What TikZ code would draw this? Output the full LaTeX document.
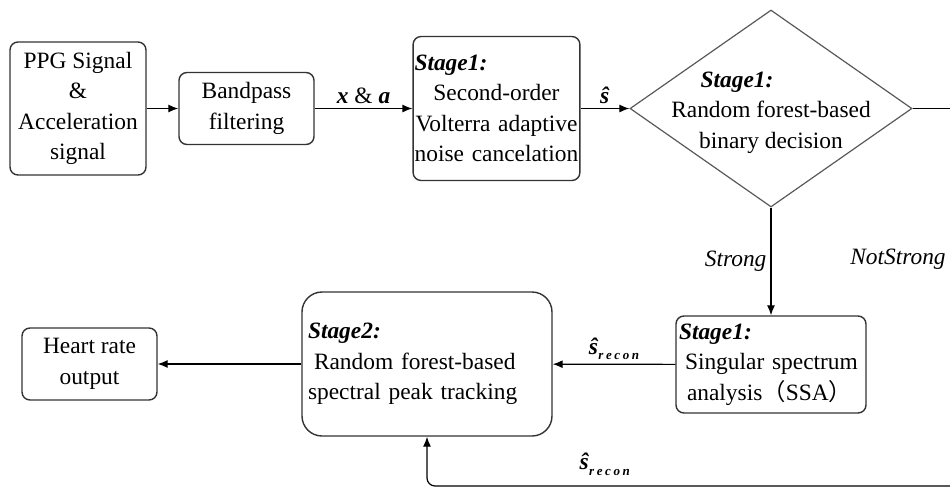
\documentclass[tikz,border=0pt]{standalone}
\usepackage{fontspec}
\setmainfont{Liberation Serif}
\newfontfamily\cjk{Noto Sans CJK SC}
\usetikzlibrary{arrows.meta,shapes.geometric}

\newcommand{\stg}[1]{\textbf{\textit{#1}}}
\newcommand{\srecon}{\stg{ŝ}\raisebox{-0.5ex}{\fontsize{6.5}{7}\selectfont\bfseries\itshape\addfontfeature{LetterSpace=20}recon}}

\begin{document}
\begin{tikzpicture}[x=0.5pt,y=-0.5pt,
  txt/.style={font=\fontsize{11.7}{15.2}\selectfont},
  box/.style={txt, draw=black!80, line width=0.7pt, rounded corners=4pt, inner sep=0.7pt},
  decide/.style={diamond, draw=black!65, line width=0.6pt, inner sep=0pt, minimum width=141pt, minimum height=98.5pt},
  arr/.style={-{Latex[length=5pt,width=4pt]}, line width=0.6pt},
  lab/.style={txt, inner sep=2pt}]
  \useasboundingbox (0,0) rectangle (950,489);

  % upper row
  \node[box, align=center, minimum width=68pt, minimum height=66.5pt] (ppg) at (78,108.5)
    {PPG Signal\\ \&\\ Acceleration\\ signal};
  \node[box, align=center, minimum width=67.5pt, minimum height=36pt] (bp) at (246.5,108.5)
    {Bandpass\\ filtering};
  \node[box, align=center, text width=82pt, minimum height=72pt] (vnc) at (496.5,108.5)
    {\makebox[\linewidth][l]{\stg{Stage1:}}\\ Second-order\\ Volterra adaptive\\ noise cancelation};
  \node[decide] (dec) at (771,108.5) {};
  \node[txt, align=center] (dectxt) at (771,112.5)
    {\hspace*{-34pt}\stg{Stage1:}\\ Random forest-based\\ binary decision};
  \coordinate (nsout) at (950,108.5);

  % lower row
  \node[box, align=left, text width=92pt, inner sep=1.5pt, minimum height=48.5pt] (ssa) at (771,364.5)
    {\stg{Stage1:}\\ \hspace*{3pt}Singular spectrum\\ \hspace*{4pt}analysis{\cjk （}SSA{\cjk ）}};
  \node[box, align=left, text width=119pt, inner sep=3pt, minimum height=72pt, rounded corners=10pt] (rf2) at (427,364)
    {\stg{Stage2:}\\ \hspace*{3pt}Random forest-based\\ spectral peak tracking};
  \node[box, align=center, minimum width=67.5pt, minimum height=36pt] (hr) at (89.5,364)
    {Heart rate\\ output};
  \coordinate (fbin) at (950,486);

  \draw[arr] (ppg) -- (bp);
  \draw[arr] (bp) -- node[lab, above] {\stg{x} \& \stg{a}} (vnc);
  \draw[arr] (vnc) -- node[lab, above] {\stg{ŝ}} (dec);
  \draw[line width=0.6pt] (dec.east) -- (nsout);
  \draw[arr] (dec.south) -- node[lab, left] {\textit{Strong}} (ssa.north);
  \node[lab] (nslab) at (898,259) {\textit{NotStrong}};
  \draw[arr] (ssa) -- node[lab, above] {\srecon} (rf2);
  \draw[arr] (rf2) -- (hr);
  \draw[arr, rounded corners=4pt] (fbin) -| node[lab, pos=0.33, above=3pt] {\srecon} (rf2.south);
\end{tikzpicture}
\end{document}
